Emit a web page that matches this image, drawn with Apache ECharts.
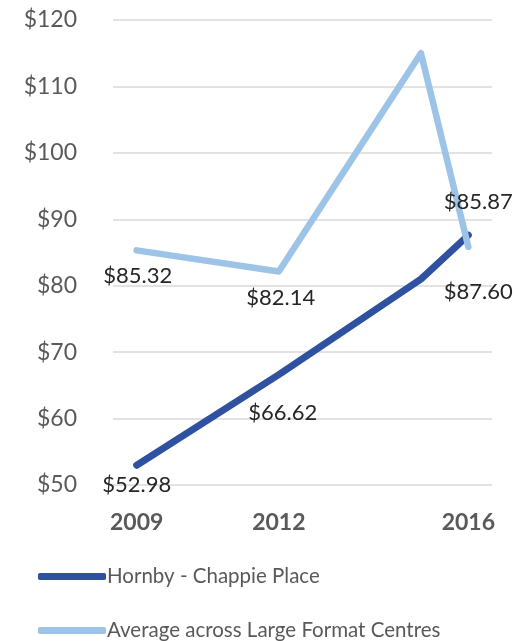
<!DOCTYPE html>
<html>
<head>
<meta charset="utf-8">
<script src="https://cdn.jsdelivr.net/npm/echarts@6/dist/echarts.min.js"></script>
<style>
  html, body { margin: 0; padding: 0; background: #fff; }
  #chart { width: 530px; height: 641px; }
</style>
</head>
<body>
<div id="chart"></div>
<script>
// Years along the axis (one slot per year; only some are labelled)
const years = ['2009', '2010', '2011', '2012', '2013', '2014', '2015', '2016'];
const shownYears = ['2009', '2012', '2016'];

// Series names
const hornbyName = 'Hornby - Chappie Place';
const avgName = 'Average across Large Format Centres';

// Average spend per visit, null where no survey was taken
const hornby = [52.98, null, null, 66.62, null, null, 81.0, 87.60];
const largeFormatAvg = [85.32, null, null, 82.14, null, null, 115.0, 85.87];

// Which points carry a value label
const hornbyLabelled = [true, false, false, true, false, false, false, true];
const avgLabelled = [true, false, false, true, false, false, false, true];

// Label offsets from each labelled point, in pixels [dx, dy]
const hornbyLabelOffset = [[0, 20], null, null, [4, 38], null, null, null, [10, 57]];
const avgLabelOffset = [[1, 26], null, null, [2, 26], null, null, null, [10, -45]];

const FONT = 'Lato, "Open Sans", sans-serif';

function buildData(values, labelled, offsets) {
  return values.map((v, i) => {
    if (v === null) return null;
    const item = { value: v };
    if (labelled[i]) {
      item.label = {
        show: true,
        position: 'inside',
        offset: offsets[i],
        formatter: (p) => '$' + p.value.toFixed(2),
        color: '#262626',
        fontSize: 22,
        fontFamily: FONT
      };
    }
    return item;
  });
}

const legendCommon = {
  orient: 'horizontal',
  left: 33,
  itemWidth: 68,
  itemHeight: 7,
  itemGap: 0,
  icon: 'roundRect',
  textStyle: { color: '#595959', fontSize: 20.5, fontFamily: FONT, padding: [0, 0, 0, -4] }
};

const chart = echarts.init(document.getElementById('chart'), null, { renderer: 'canvas' });

chart.setOption({
  animation: false,
  backgroundColor: '#ffffff',
  grid: { left: 113, right: 38, top: 20, bottom: 156, containLabel: false },
  legend: [
    Object.assign({}, legendCommon, { top: 561, data: [hornbyName] }),
    Object.assign({}, legendCommon, { top: 615, data: [avgName] })
  ],
  xAxis: {
    type: 'category',
    data: years,
    boundaryGap: true,
    axisLine: { show: false },
    axisTick: { show: false },
    axisLabel: {
      interval: 0,
      formatter: (v) => (shownYears.includes(v) ? v : ''),
      color: '#595959',
      fontSize: 23,
      fontWeight: 'bold',
      fontFamily: FONT,
      margin: 26
    }
  },
  yAxis: {
    type: 'value',
    min: 50,
    max: 120,
    interval: 10,
    axisLine: { show: false },
    axisTick: { show: false },
    axisLabel: {
      formatter: (v) => '$' + v,
      color: '#595959',
      fontSize: 23,
      fontFamily: FONT,
      margin: 36
    },
    splitLine: { lineStyle: { color: '#d9d9d9', width: 1.5 } }
  },
  series: [
    {
      name: hornbyName,
      type: 'line',
      data: buildData(hornby, hornbyLabelled, hornbyLabelOffset),
      connectNulls: true,
      symbol: 'circle',
      symbolSize: 1,
      showSymbol: true,
      z: 3,
      color: '#2f52a0',
      itemStyle: { color: '#2f52a0' },
      lineStyle: { color: '#2f52a0', width: 7, cap: 'round', join: 'round' }
    },
    {
      name: avgName,
      type: 'line',
      data: buildData(largeFormatAvg, avgLabelled, avgLabelOffset),
      connectNulls: true,
      symbol: 'circle',
      symbolSize: 1,
      showSymbol: true,
      z: 4,
      color: '#9dc3e6',
      itemStyle: { color: '#9dc3e6' },
      lineStyle: { color: '#9dc3e6', width: 6.5, cap: 'round', join: 'round' }
    }
  ]
});
</script>
</body>
</html>
